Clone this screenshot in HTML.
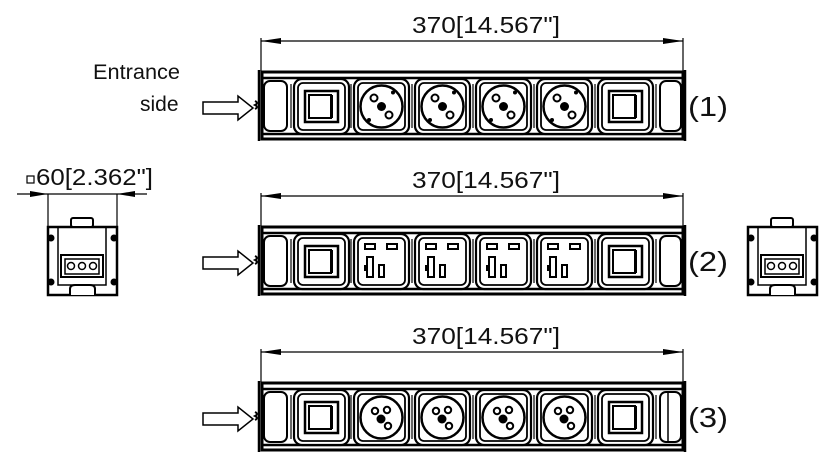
<!DOCTYPE html>
<html><head><meta charset="utf-8"><style>
html,body{margin:0;padding:0;background:#fff}
svg{display:block}
text{font-family:"Liberation Sans",sans-serif;fill:#111}
</style></head><body>
<svg width="827" height="472" viewBox="0 0 827 472" xmlns="http://www.w3.org/2000/svg">
<defs>
<g id="panel">
<rect x="-1" y="-1" width="55" height="55" rx="8" fill="#fff" stroke="#000" stroke-width="2.2"/>
<rect x="3" y="3" width="47" height="47" rx="5" fill="none" stroke="#000" stroke-width="1.8"/>
</g>
<g id="switch">
<use href="#panel"/>
<rect x="10" y="11" width="33" height="31" fill="none" stroke="#000" stroke-width="2.5"/>
<rect x="14" y="15" width="22" height="23" fill="none" stroke="#000" stroke-width="2"/>
<line x1="37" y1="15" x2="37" y2="38" stroke="#000" stroke-width="2"/>
</g>
<g id="sock1">
<use href="#panel"/>
<circle cx="26.5" cy="26.5" r="21" fill="none" stroke="#000" stroke-width="2.5"/>
<circle cx="19" cy="18" r="3.5" fill="none" stroke="#000" stroke-width="2"/>
<circle cx="34" cy="35" r="3.5" fill="none" stroke="#000" stroke-width="2"/>
<circle cx="26.5" cy="26.5" r="4.5" fill="#000"/>
<circle cx="38" cy="12.5" r="2" fill="#000"/>
<circle cx="14" cy="40" r="2" fill="#000"/>
</g>
<g id="sock3">
<use href="#panel"/>
<circle cx="26.5" cy="26.5" r="21" fill="none" stroke="#000" stroke-width="2.5"/>
<circle cx="20" cy="20" r="3.2" fill="none" stroke="#000" stroke-width="2"/>
<circle cx="32" cy="19" r="3.2" fill="none" stroke="#000" stroke-width="2"/>
<circle cx="33" cy="35" r="3.2" fill="none" stroke="#000" stroke-width="2"/>
<circle cx="26" cy="28" r="4.5" fill="#000"/>
</g>
<g id="sock2">
<use href="#panel"/>
<rect x="10" y="9" width="10" height="5" fill="none" stroke="#000" stroke-width="2"/>
<rect x="32" y="9" width="10" height="5" fill="none" stroke="#000" stroke-width="2"/>
<rect x="12" y="22" width="6" height="20" fill="none" stroke="#000" stroke-width="2"/>
<line x1="10" y1="30" x2="10" y2="36" stroke="#000" stroke-width="2"/>
<rect x="24" y="30" width="5" height="12" fill="none" stroke="#000" stroke-width="2"/>
</g>
<g id="body">
<rect x="262" y="72" width="421" height="67" fill="#fff" stroke="#000" stroke-width="3"/>
<line x1="262" y1="78" x2="683" y2="78" stroke="#000" stroke-width="2.5"/>
<line x1="262" y1="134" x2="683" y2="134" stroke="#000" stroke-width="2.5"/>
<line x1="259" y1="70" x2="259" y2="141" stroke="#000" stroke-width="2.5"/>
<line x1="685" y1="70" x2="685" y2="141" stroke="#000" stroke-width="2.5"/>
<rect x="264" y="81" width="23" height="50" rx="6" fill="#ffffff" stroke="#000" stroke-width="2"/>
<rect x="660" y="81" width="21" height="50" rx="6" fill="#ffffff" stroke="#000" stroke-width="2"/>
<g stroke="#000" stroke-width="1.2">
<line x1="291" y1="84" x2="291" y2="128"/><line x1="351" y1="84" x2="351" y2="128"/>
<line x1="412" y1="84" x2="412" y2="128"/><line x1="473" y1="84" x2="473" y2="128"/>
<line x1="534" y1="84" x2="534" y2="128"/><line x1="595" y1="84" x2="595" y2="128"/>
<line x1="656" y1="84" x2="656" y2="128"/>
</g>
<path d="M255 101 q4 2 0 4 q4 2 0 4" fill="none" stroke="#000" stroke-width="2"/>
<use href="#switch" x="295" y="80"/>
<use href="#switch" x="599" y="80"/>
</g>
<g id="arrow">
<path d="M203 102 h35 v-6 l15 12 l-15 12 v-6 h-35 z" fill="#fff" stroke="#000" stroke-width="1.5"/>
</g>
<g id="dim">
<line x1="261" y1="41" x2="683" y2="41" stroke="#000" stroke-width="1.2"/>
<path d="M261 41 l20 -3 v6 z M683 41 l-20 -3 v6 z" fill="#000"/>
<line x1="261" y1="38" x2="261" y2="71" stroke="#000" stroke-width="1.2"/>
<line x1="683" y1="38" x2="683" y2="71" stroke="#000" stroke-width="1.2"/>
<text x="486" y="33" font-size="23" text-anchor="middle" textLength="148" lengthAdjust="spacingAndGlyphs">370[14.567"]</text>
</g>
<g id="endview">
<rect x="48" y="227" width="69" height="68" fill="#fff" stroke="#000" stroke-width="2.5"/>
<rect x="71" y="218" width="22" height="9" rx="2" fill="#fff" stroke="#000" stroke-width="2"/>
<path d="M58 227 v58 h48 v-58" fill="none" stroke="#000" stroke-width="1.5"/>
<circle cx="51" cy="238" r="3.5" fill="#000"/><circle cx="114" cy="238" r="3.5" fill="#000"/>
<circle cx="51" cy="282" r="3.5" fill="#000"/><circle cx="114" cy="282" r="3.5" fill="#000"/>
<rect x="61" y="255" width="42" height="22" fill="#fff" stroke="#000" stroke-width="2"/>
<rect x="65" y="259" width="34" height="15" fill="none" stroke="#000" stroke-width="1.5"/>
<circle cx="71" cy="266" r="3.5" fill="none" stroke="#000" stroke-width="1.5"/>
<circle cx="82" cy="266" r="3.5" fill="none" stroke="#000" stroke-width="1.5"/>
<circle cx="93" cy="266" r="3.5" fill="none" stroke="#000" stroke-width="1.5"/>
<path d="M70 295 v-6 q0 -4 5 -4 h15 q5 0 5 4 v6" fill="#fff" stroke="#000" stroke-width="2"/>
</g>
</defs>

<use href="#dim"/>
<use href="#body"/>
<use href="#sock1" x="355" y="80"/><use href="#sock1" x="416" y="80"/><use href="#sock1" x="477" y="80"/><use href="#sock1" x="538" y="80"/>
<use href="#arrow"/>
<text x="93" y="79" font-size="21" textLength="87" lengthAdjust="spacingAndGlyphs">Entrance</text>
<text x="140" y="111" font-size="21">side</text>
<text x="688" y="116" font-size="28" textLength="40" lengthAdjust="spacingAndGlyphs">(1)</text>

<g transform="translate(0,155)">
<use href="#dim"/>
<use href="#body"/>
<use href="#sock2" x="355" y="80"/><use href="#sock2" x="416" y="80"/><use href="#sock2" x="477" y="80"/><use href="#sock2" x="538" y="80"/>
<use href="#arrow"/>
<text x="688" y="116" font-size="28" textLength="40" lengthAdjust="spacingAndGlyphs">(2)</text>
</g>

<g transform="translate(0,311)">
<use href="#dim"/>
<use href="#body"/>
<line x1="668" y1="82" x2="668" y2="130" stroke="#000" stroke-width="1.5"/>
<use href="#sock3" x="355" y="80"/><use href="#sock3" x="416" y="80"/><use href="#sock3" x="477" y="80"/><use href="#sock3" x="538" y="80"/>
<use href="#arrow"/>
<text x="688" y="116" font-size="28" textLength="40" lengthAdjust="spacingAndGlyphs">(3)</text>
</g>

<use href="#endview"/>
<line x1="17" y1="194" x2="147" y2="194" stroke="#000" stroke-width="1.2"/>
<path d="M48 194 l-18 -3 v6 z M117 194 l18 -3 v6 z" fill="#000"/>
<line x1="48" y1="194" x2="48" y2="227" stroke="#000" stroke-width="1.2"/>
<line x1="117" y1="194" x2="117" y2="227" stroke="#000" stroke-width="1.2"/>
<rect x="27" y="176" width="7" height="7" fill="none" stroke="#000" stroke-width="1.2"/>
<text x="36" y="185" font-size="23" textLength="117" lengthAdjust="spacingAndGlyphs">60[2.362"]</text>

<use href="#endview" transform="translate(700,0)"/>
</svg>
</body></html>
